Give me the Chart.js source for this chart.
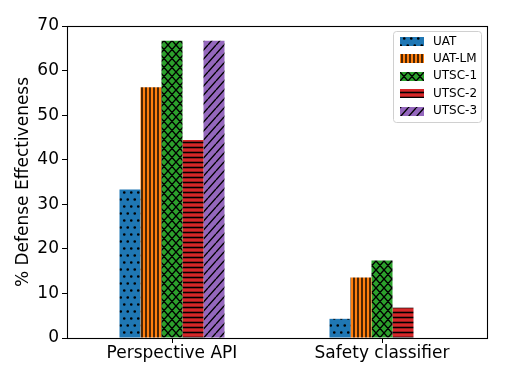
<!DOCTYPE html>
<html>
<head>
<meta charset="utf-8">
<script src="https://cdn.jsdelivr.net/npm/chart.js@4"></script>
<style>
html,body{margin:0;padding:0;background:#fff;}
canvas{display:block;}
</style>
</head>
<body>
<canvas id="c" width="521" height="366"></canvas>
<script>
const categories = ["Perspective API", "Safety classifier"];
const seriesNames = ["UAT", "UAT-LM", "UTSC-1", "UTSC-2", "UTSC-3"];
const uat    = [33.3, 4.3];
const uatLm  = [56.25, 13.6];
const utsc1  = [66.7, 17.4];
const utsc2  = [44.4, 6.8];
const utsc3  = [66.7, 0];
const yTicks = [0, 10, 20, 30, 40, 50, 60, 70];
const colors = ["#1f77b4", "#ff7f0e", "#2ca02c", "#d62728", "#9467bd"];
const hatches = ["dots", "vline", "cross", "hline", "diag"];
const values = [uat, uatLm, utsc1, utsc2, utsc3];

function makePattern(color, type) {
  const dims = {dots:[7,14], vline:[4,4], hline:[5,5], cross:[8,9], diag:[8,9]};
  const [w, h] = dims[type];
  const c = document.createElement('canvas');
  c.width = w; c.height = h;
  const g = c.getContext('2d');
  g.fillStyle = color; g.fillRect(0, 0, w, h);
  g.strokeStyle = '#000'; g.fillStyle = '#000'; g.lineWidth = 1.4;
  g.beginPath();
  if (type === 'dots') {
    g.arc(1.75, 3.5, 1.35, 0, Math.PI * 2);
    g.moveTo(5.25 + 1.35, 10.5);
    g.arc(5.25, 10.5, 1.35, 0, Math.PI * 2);
    g.fill();
  } else if (type === 'vline') {
    g.moveTo(2, 0); g.lineTo(2, h); g.stroke();
  } else if (type === 'hline') {
    g.lineWidth = 1.6;
    g.moveTo(0, 2.5); g.lineTo(w, 2.5); g.stroke();
  } else if (type === 'cross') {
    for (let k = -1; k <= 1; k++) {
      g.moveTo(k * w, 0); g.lineTo(k * w + w, h);
      g.moveTo(k * w, h); g.lineTo(k * w + w, 0);
    }
    g.stroke();
  } else if (type === 'diag') {
    for (let k = -1; k <= 1; k++) {
      g.moveTo(k * w, h); g.lineTo(k * w + w, 0);
    }
    g.stroke();
  }
  return g.createPattern(c, 'repeat');
}

const ctx = document.getElementById('c').getContext('2d');
const patterns = colors.map((col, i) => makePattern(col, hatches[i]));

const datasets = seriesNames.map((name, i) => ({
  label: name,
  data: values[i],
  backgroundColor: patterns[i],
  borderWidth: 0,
  categoryPercentage: 0.5,
  barPercentage: 1.0
}));

const framePlugin = {
  id: 'frame',
  afterDatasetsDraw(chart) {
    const a = chart.chartArea, g = chart.ctx;
    g.save();
    g.strokeStyle = '#000';
    g.lineWidth = 1.1;
    g.strokeRect(Math.round(a.left) + 0.5, Math.round(a.top) + 0.5, Math.round(a.right - a.left), Math.round(a.bottom - a.top));
    g.restore();
  }
};

const legendPlugin = {
  id: 'mplLegend',
  afterDraw(chart) {
    const g = chart.ctx;
    const x0 = 393.5, y0 = 31.5, w = 88, h = 91;
    g.save();
    g.fillStyle = 'rgba(255,255,255,0.8)';
    g.strokeStyle = '#d0d0d0';
    g.lineWidth = 1;
    const r = 3;
    g.beginPath();
    g.moveTo(x0 + r, y0);
    g.lineTo(x0 + w - r, y0); g.quadraticCurveTo(x0 + w, y0, x0 + w, y0 + r);
    g.lineTo(x0 + w, y0 + h - r); g.quadraticCurveTo(x0 + w, y0 + h, x0 + w - r, y0 + h);
    g.lineTo(x0 + r, y0 + h); g.quadraticCurveTo(x0, y0 + h, x0, y0 + h - r);
    g.lineTo(x0, y0 + r); g.quadraticCurveTo(x0, y0, x0 + r, y0);
    g.closePath(); g.fill(); g.stroke();
    g.font = '12px "DejaVu Sans"';
    g.textBaseline = 'middle';
    g.textAlign = 'left';
    chart.data.datasets.forEach((ds, i) => {
      const cy = 41 + i * 17.4;
      g.fillStyle = ds.backgroundColor;
      g.fillRect(400, Math.round(cy - 4), 24, 9);
      g.fillStyle = '#000';
      g.fillText(ds.label, 433, cy + 0.5);
    });
    g.restore();
  }
};

new Chart(ctx, {
  type: 'bar',
  data: { labels: categories, datasets },
  options: {
    responsive: false,
    animation: false,
    devicePixelRatio: 1,
    layout: { padding: { top: 26, right: 34, left: 0, bottom: 0 } },
    plugins: { legend: { display: false }, tooltip: { enabled: false } },
    scales: {
      x: {
        grid: { display: true, drawOnChartArea: false, drawTicks: true, tickLength: 5, color: '#000', offset: false },
        border: { display: true, color: '#000', width: 1 },
        ticks: { color: '#000', font: { family: 'DejaVu Sans', size: 17 }, padding: 0, maxRotation: 0 },
        afterFit(s) { s.height = 28; }
      },
      y: {
        min: 0, max: 70,
        afterBuildTicks(s) { s.ticks = yTicks.map(v => ({ value: v })); },
        grid: { display: true, drawOnChartArea: false, drawTicks: true, tickLength: 5, color: '#000' },
        border: { display: true, color: '#000', width: 1 },
        ticks: { color: '#000', font: { family: 'DejaVu Sans', size: 17 }, padding: 3 },
        title: { display: true, text: '% Defense Effectiveness', color: '#000', font: { family: 'DejaVu Sans', size: 17 }, padding: { top: 13, bottom: 0 } },
        afterFit(s) { s.width = 67; }
      }
    }
  },
  plugins: [framePlugin, legendPlugin]
});
</script>
</body>
</html>
